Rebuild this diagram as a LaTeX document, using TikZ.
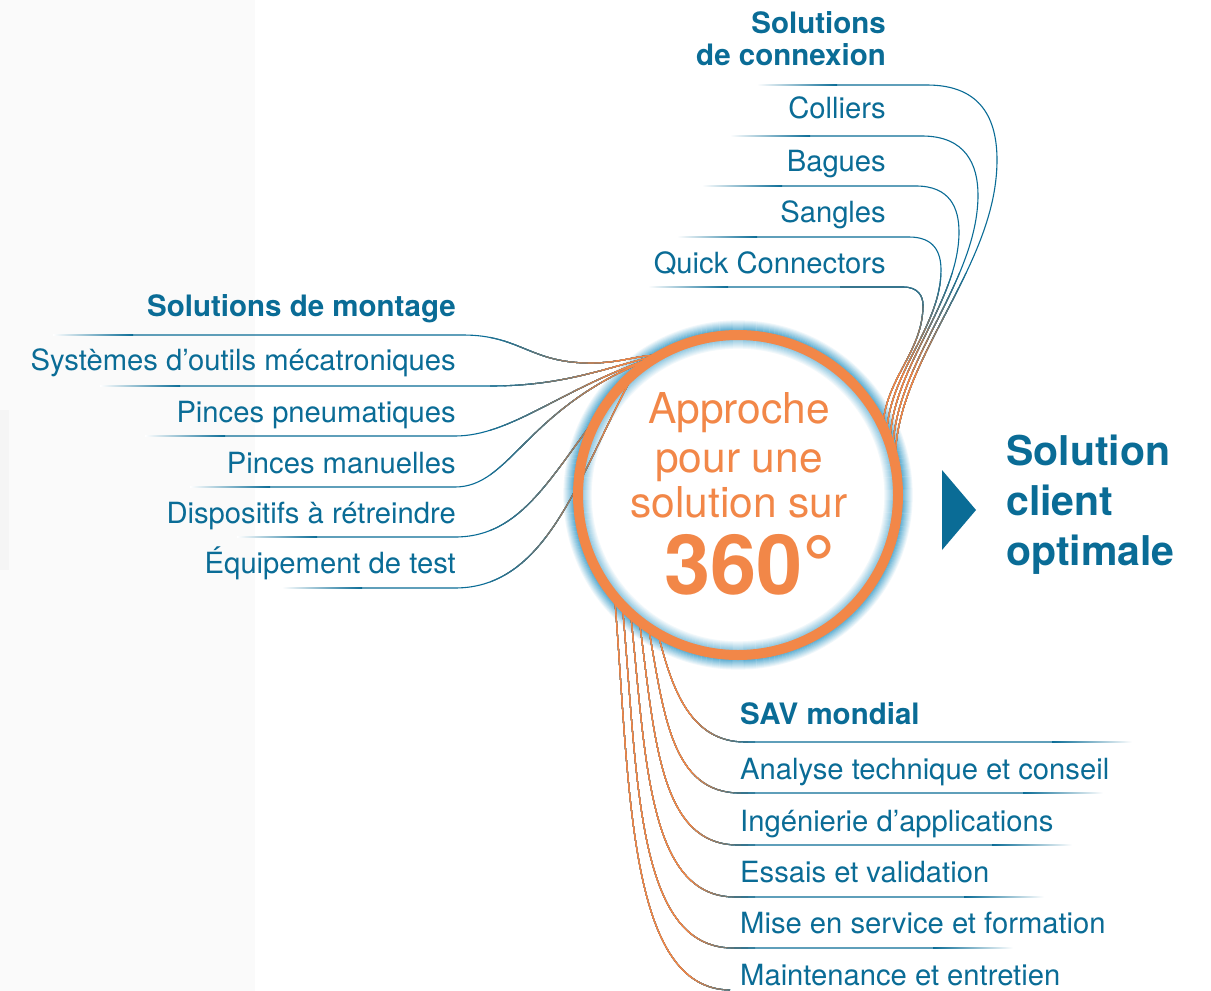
\documentclass[tikz,border=0pt]{standalone}
\usepackage{fontspec}
\setmainfont{TeX Gyre Heros}
\usetikzlibrary{calc}

\definecolor{sblue}{RGB}{10,108,150}
\definecolor{sorange}{RGB}{242,135,72}
\definecolor{glowblue}{RGB}{55,155,200}

\tikzset{
  wire/.style={line width=1.1pt},
  itemtxt/.style={text=sblue, inner sep=0pt, font={\fontsize{29.2}{34}\selectfont}},
  headtxt/.style={text=sblue, inner sep=0pt, font={\fontsize{29.5}{34}\selectfont\bfseries}},
  hubtxt/.style={text=sorange, inner sep=0pt, font={\fontsize{42.5}{47}\selectfont}},
  resulttxt/.style={text=sblue, inner sep=0pt, font={\fontsize{41}{50}\selectfont\bfseries}},
}

\begin{document}
\begin{tikzpicture}[x=1pt, y=-1pt]
  \useasboundingbox (0,0) rectangle (1211,991);
  \fill[white] (0,0) rectangle (1211,991);
  % faint panel on the left
  \fill[black!2] (0,0) rectangle (255,991);
  \fill[black!4] (0,410) rectangle (9,570);

  % hub of the diagram
  \node[circle, minimum size=326pt, inner sep=0pt, outer sep=0pt] (hub) at (738,495) {};

  % blue glow round the ring
  \foreach \i in {9,8,...,0}{
    \pgfmathtruncatemacro\pc{80-8*\i}
    \draw[glowblue!\pc!white, line width=1.3pt] (hub.center) circle[radius=165+\i];
  }
  \foreach \i in {8,7,...,0}{
    \pgfmathtruncatemacro\pc{55-6*\i}
    \draw[glowblue!\pc!white, line width=1.3pt] (hub.center) circle[radius=155-\i];
  }

  % free ends of the wires
  \foreach \n/\x/\y in {1/133/335, 2/180/386, 3/225/436, 4/270/487, 5/317/537, 6/362/588}
    \coordinate (m\n) at (\x,\y);
  \foreach \n/\x/\y in {1/837/85, 2/810/136, 3/782/186, 4/757/237, 5/728/287}
    \coordinate (c\n) at (\x,\y);
  \foreach \n/\x/\y in {1/1052/742, 2/1023/793, 3/992/845, 4/964/897, 5/933/948, 6/730/990}
    \coordinate (s\n) at (\x,\y);

  % wires of each group
  \def\montagewires{
    (m1) -- (463,335) .. controls (520,335) and (530,363) .. (590,363) .. controls (620,363) and (635,356) .. (hub.121)
    (m2) -- (490,386) .. controls (560,386) and (600,370) .. (hub.122)
    (m3) -- (455,436) .. controls (510,436) and (560,390) .. (hub.124)
    (m4) -- (455,487) .. controls (510,487) and (525,410) .. (hub.125)
    (m5) -- (455,537) .. controls (535,537) and (560,450) .. (hub.127)
    (m6) -- (455,588) .. controls (550,588) and (580,470) .. (hub.128)}
  \def\connexwires{
    (c1) -- (927,85) .. controls (982,85) and (997,120) .. (997,160) .. controls (997,265) and (900,355) .. (hub.15)
    (c2) -- (922,136) .. controls (966,136) and (978,165) .. (978,195) .. controls (978,280) and (898,360) .. (hub.18)
    (c3) -- (916,186) .. controls (950,186) and (959,208) .. (959,232) .. controls (959,300) and (895,365) .. (hub.21)
    (c4) -- (909,237) .. controls (934,237) and (941,252) .. (941,270) .. controls (941,325) and (892,370) .. (hub.24)
    (c5) -- (903,287) .. controls (918,287) and (923,296) .. (923,305) .. controls (923,350) and (889,375) .. (hub.27)}
  \def\savwires{
    (hub.241) .. controls (672,688) and (690,742) .. (745,742) -- (s1)
    (hub.237) .. controls (664,715) and (672,793) .. (740,793) -- (s2)
    (hub.233) .. controls (655,740) and (660,845) .. (738,845) -- (s3)
    (hub.229) .. controls (646,760) and (648,897) .. (735,897) -- (s4)
    (hub.225) .. controls (638,780) and (636,948) .. (733,948) -- (s5)
    (hub.221) .. controls (630,790) and (628,989) .. (s6)}

  % blue first, then orange creeping in towards the hub
  \draw[wire, sblue] \montagewires \connexwires \savwires;
  \foreach \k in {1,...,10}{
    \pgfmathtruncatemacro\pc{10*\k}
    \begin{scope}
      \clip (476+14*\k,300) rectangle (700,640);
      \draw[wire, sorange!\pc!sblue] \montagewires;
    \end{scope}
    \begin{scope}
      \clip (840,262+11*\k) rectangle (1010,470);
      \draw[wire, sorange!\pc!sblue] \connexwires;
    \end{scope}
    \begin{scope}
      \clip (560,600) rectangle (762-7*\k,991);
      \draw[wire, sorange!\pc!sblue] \savwires;
    \end{scope}
  }

  % faded outer ends
  \foreach \n in {1,...,6}
    \shade[left color=white, right color=sblue] ($(m\n)+(-80,-0.55)$) rectangle ($(m\n)+(0,0.55)$);
  \foreach \n in {1,...,5}
    \shade[left color=white, right color=sblue] ($(c\n)+(-80,-0.55)$) rectangle ($(c\n)+(0,0.55)$);
  \foreach \n in {1,...,5}
    \shade[left color=sblue, right color=white] ($(s\n)+(0,-0.55)$) rectangle ($(s\n)+(80,0.55)$);

  % the ring
  \draw[sorange, line width=10pt] (hub.center) circle[radius=160];

  % text in the hub
  \node[hubtxt, anchor=base] (hub1) at (739,423) {Approche};
  \node[hubtxt, anchor=base] (hub2) at (739,472) {pour une};
  \node[hubtxt, anchor=base] (hub3) at (739,517) {solution sur};
  \node[hubtxt, anchor=base, font={\fontsize{83}{83}\selectfont\bfseries}] (hub4) at (750,594) {360°};

  % Solutions de connexion
  \node[headtxt, anchor=base east] (connex1) at (886,33) {Solutions};
  \node[headtxt, anchor=base east] (connex2) at (886,65) {de connexion};
  \node[itemtxt, anchor=base east] (con1) at (886,118) {Colliers};
  \node[itemtxt, anchor=base east] (con2) at (886,171) {Bagues};
  \node[itemtxt, anchor=base east] (con3) at (886,222) {Sangles};
  \node[itemtxt, anchor=base east] (con4) at (886,273) {Quick Connectors};

  % Solutions de montage
  \node[headtxt, anchor=base east] (montage) at (456,316) {Solutions de montage};
  \node[itemtxt, anchor=base east] (mon1) at (456,370) {Systèmes d’outils mécatroniques};
  \node[itemtxt, anchor=base east] (mon2) at (456,422) {Pinces pneumatiques};
  \node[itemtxt, anchor=base east] (mon3) at (456,473) {Pinces manuelles};
  \node[itemtxt, anchor=base east] (mon4) at (456,523) {Dispositifs à rétreindre};
  \node[itemtxt, anchor=base east] (mon5) at (456,573) {Équipement de test};

  % SAV mondial
  \node[headtxt, anchor=base west] (sav) at (740,724) {SAV mondial};
  \node[itemtxt, anchor=base west] (sav1) at (740,779) {Analyse technique et conseil};
  \node[itemtxt, anchor=base west] (sav2) at (740,831) {Ingénierie d’applications};
  \node[itemtxt, anchor=base west] (sav3) at (740,882) {Essais et validation};
  \node[itemtxt, anchor=base west] (sav4) at (740,933) {Mise en service et formation};
  \node[itemtxt, anchor=base west] (sav5) at (740,985) {Maintenance et entretien};

  % result
  \fill[sblue] (942,470) -- (976,510) -- (942,550) -- cycle;
  \node[resulttxt, anchor=base west] (res1) at (1006,465) {Solution};
  \node[resulttxt, anchor=base west] (res2) at (1006,515) {client};
  \node[resulttxt, anchor=base west] (res3) at (1006,565) {optimale};
\end{tikzpicture}
\end{document}
